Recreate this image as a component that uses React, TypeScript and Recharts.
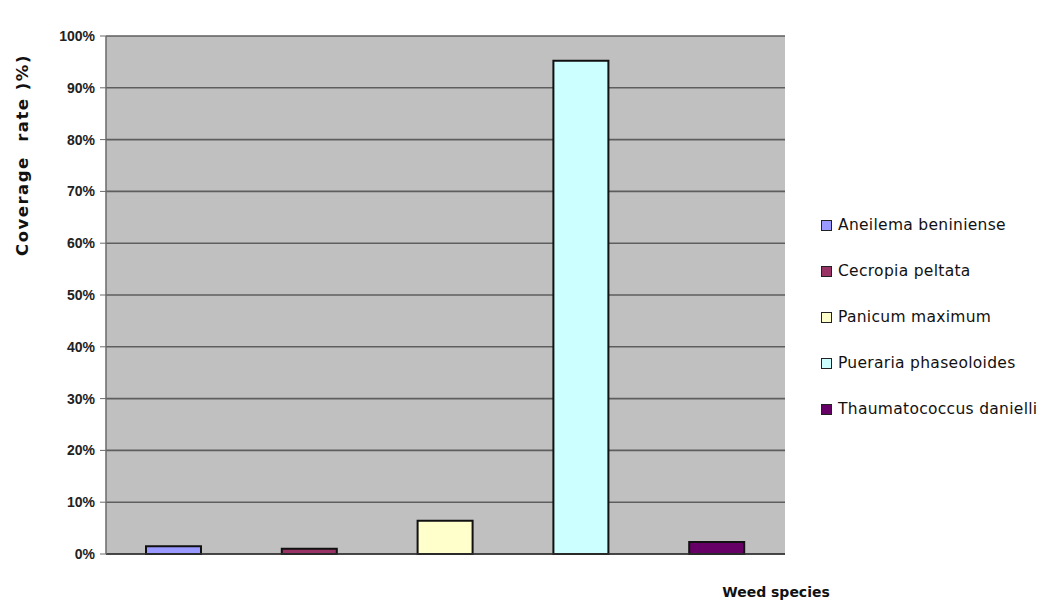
import { BarChart, Bar, XAxis, YAxis, CartesianGrid, Cell } from 'recharts'

const species = [
  'Aneilema beniniense',
  'Cecropia peltata',
  'Panicum maximum',
  'Pueraria phaseoloides',
  'Thaumatococcus danielli',
]
const coverage = [0.015, 0.01, 0.064, 0.952, 0.023]
const colors = ['#9999FF', '#993366', '#FFFFCC', '#CCFFFF', '#660066']
const yTicks = [0, 0.1, 0.2, 0.3, 0.4, 0.5, 0.6, 0.7, 0.8, 0.9, 1]

const data = species.map((name, i) => ({ name, value: coverage[i] }))

const labelFont = '"Comic Sans MS", "DejaVu Sans", sans-serif'

function SpeciesLegend() {
  return (
    <div style={{ position: 'absolute', left: 821, top: 215, display: 'flex', flexDirection: 'column', gap: 26 }}>
      {species.map((name, i) => (
        <div key={name} style={{ display: 'flex', alignItems: 'center', gap: 6, whiteSpace: 'nowrap' }}>
          <div
            style={{
              width: 9,
              height: 9,
              background: colors[i],
              border: '1px solid #222',
            }}
          />
          <span style={{ fontFamily: labelFont, fontSize: 15.5, letterSpacing: 0.3, color: '#111', lineHeight: '20px' }}>
            {name}
          </span>
        </div>
      ))}
    </div>
  )
}

export default function App() {
  return (
    <div style={{ position: 'absolute', left: 0, top: 0, width: 1049, height: 607, background: '#fff', overflow: 'hidden' }}>
      <BarChart
        width={1049}
        height={607}
        data={data}
        margin={{ top: 36, right: 264, bottom: 52, left: 0 }}
      >
        <CartesianGrid yAxisId="left" vertical={false} fill="#C0C0C0" stroke="#5e5e5e" strokeWidth={1.6} />
        <XAxis
          dataKey="name"
          tick={false}
          tickLine={false}
          height={1}
          axisLine={{ stroke: '#333', strokeWidth: 1.5 }}
        />
        <YAxis
          yAxisId="left"
          domain={[0, 1]}
          ticks={yTicks}
          interval={0}
          width={106}
          tickSize={6}
          tickMargin={5}
          tickFormatter={(v: number) => `${Math.round(v * 100)}%`}
          tick={{ fill: '#222', fontSize: 14, fontWeight: 700, fontFamily: 'Liberation Sans, Arial, sans-serif' }}
          tickLine={{ stroke: '#6a6a6a' }}
          axisLine={{ stroke: '#6a6a6a', strokeWidth: 1.5 }}
        />
        <YAxis
          yAxisId="right"
          orientation="right"
          domain={[0, 1]}
          width={0}
          tick={false}
          tickLine={false}
          axisLine={{ stroke: '#6a6a6a', strokeWidth: 1.5 }}
        />
        <Bar yAxisId="left" dataKey="value" barSize={55} stroke="#111" strokeWidth={2} isAnimationActive={false}>
          {data.map((d, i) => (
            <Cell key={d.name} fill={colors[i]} />
          ))}
        </Bar>
      </BarChart>
      {/* axis titles */}
      <div
        style={{
          position: 'absolute',
          left: 22,
          top: 155,
          transform: 'translate(-50%, -50%) rotate(-90deg)',
          fontFamily: labelFont,
          fontWeight: 700,
          fontSize: 16.5,
          letterSpacing: 1.5,
          color: '#111',
          whiteSpace: 'pre',
        }}
      >
        {'Coverage  rate )%)'}
      </div>
      <div
        style={{
          position: 'absolute',
          left: 776,
          top: 592,
          transform: 'translate(-50%, -50%)',
          fontFamily: labelFont,
          fontWeight: 700,
          fontSize: 14,
          color: '#111',
          whiteSpace: 'nowrap',
        }}
      >
        Weed species
      </div>
      <SpeciesLegend />
    </div>
  )
}
